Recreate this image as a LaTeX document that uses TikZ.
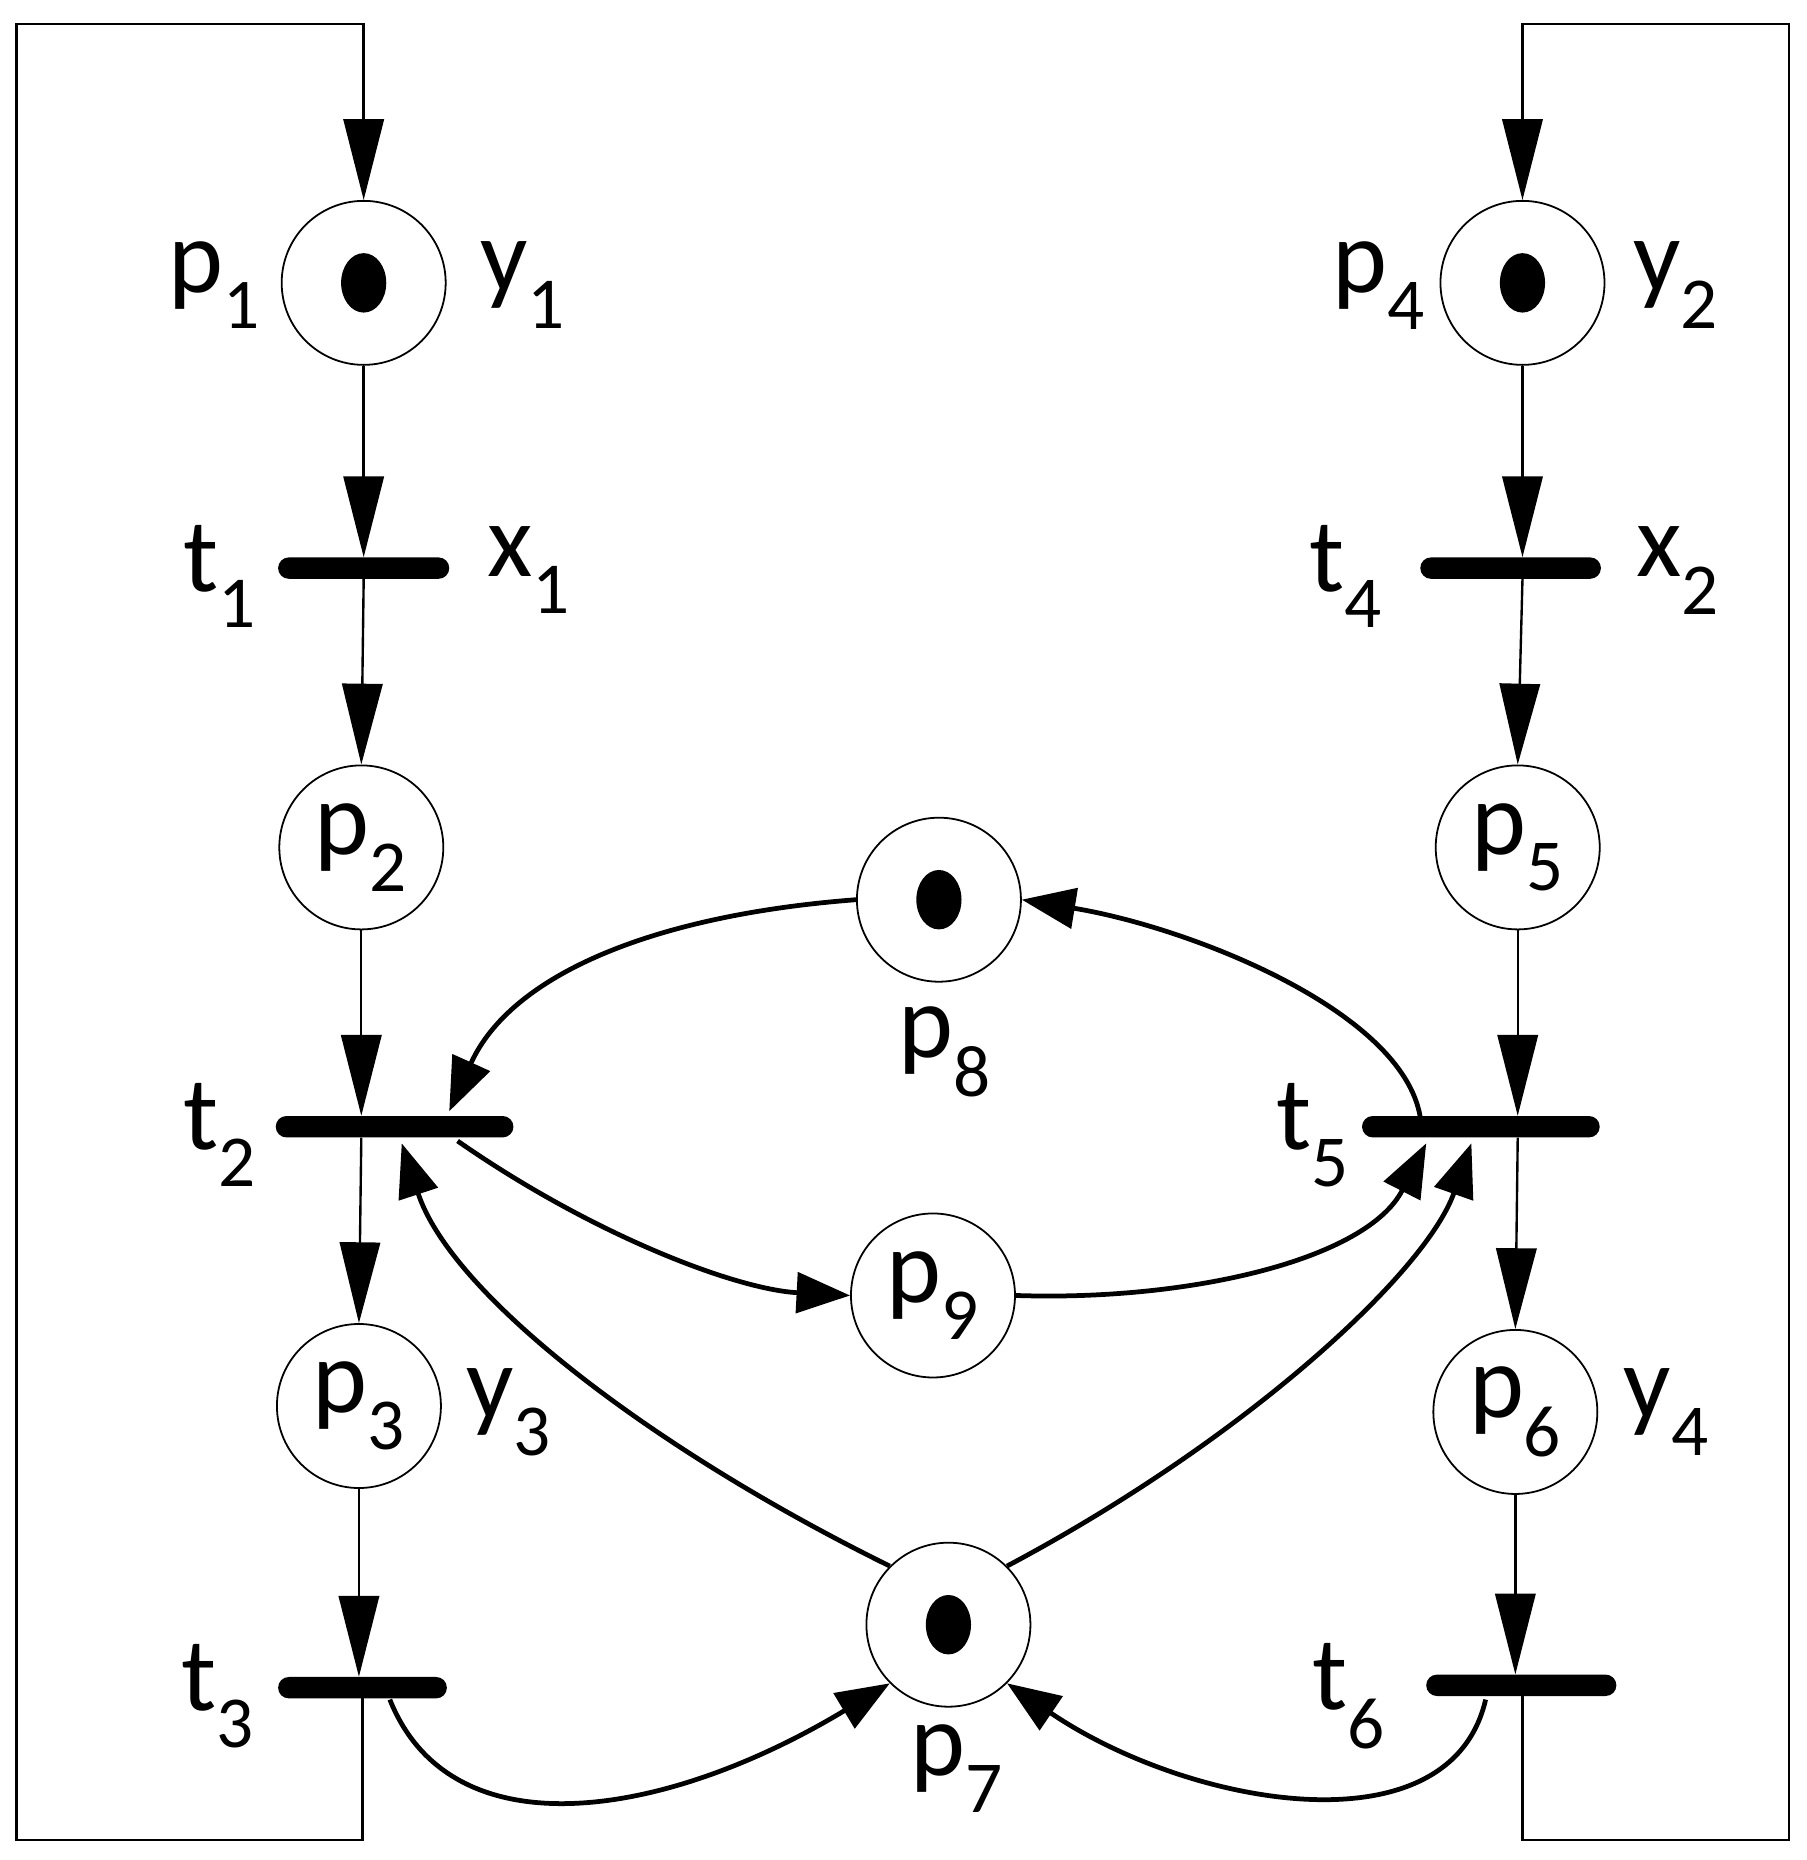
\documentclass[tikz,border=0pt]{standalone}
\usepackage{fontspec}
\setmainfont{Carlito}
\usetikzlibrary{arrows.meta}
\begin{document}
\begin{tikzpicture}[x=1pt,y=-1pt,
  place/.style={circle,draw,line width=1.5pt,minimum size=138pt,inner sep=0pt},
  bar/.style={rectangle,fill=black,rounded corners=9pt,minimum height=18pt,inner sep=0pt},
  lab/.style={font=\fontsize{88}{96}\selectfont},
  thin/.style={line width=2pt,-{Triangle[length=68pt,width=34pt]}},
  thick/.style={line width=4pt,-{Triangle[length=45pt,width=34pt]}},
  tok/.style={fill=black}]
\useasboundingbox (0,0) rectangle (1520,1565);
% places
\node[place] (p1) at (306,238) {};
\node[place] (p4) at (1281,238) {};
\node[place] (p2) at (304,713) {};
\node[place] (p5) at (1277,713) {};
\node[place] (p8) at (790,757) {};
\node[place] (p9) at (785,1090) {};
\node[place] (p3) at (302,1183) {};
\node[place] (p6) at (1275,1188) {};
\node[place] (p7) at (798,1367) {};
\foreach \p in {p1,p4,p8,p7} \fill[tok] (\p) ellipse (19pt and 25pt);
% transitions
\node[bar,minimum width=144pt] (t1) at (306,478) {};
\node[bar,minimum width=152pt] (t4) at (1271,478) {};
\node[bar,minimum width=200pt] (t2) at (332,948) {};
\node[bar,minimum width=200pt] (t5) at (1246,948) {};
\node[bar,minimum width=142pt] (t3) at (305,1420) {};
\node[bar,minimum width=160pt] (t6) at (1280,1418) {};
% labels
\node[lab] at (180,240) {p$_{\fontsize{60}{60}\selectfont\textrm{1}}$};
\node[lab] (Ly1) at (440,240) {y\textsubscript{1}};
\node[lab] at (1160,240) {p\textsubscript{4}};
\node[lab] at (1410,240) {y\textsubscript{2}};
\node[lab] at (185,485) {t\textsubscript{1}};
\node[lab] at (445,480) {x\textsubscript{1}};
\node[lab] at (1132,485) {t\textsubscript{4}};
\node[lab] at (1412,480) {x\textsubscript{2}};
\node[lab] at (p2) {p\textsubscript{2}};
\node[lab] at (p5) {p\textsubscript{5}};
\node[lab] at (p3) {p\textsubscript{3}};
\node[lab] at (p6) {p\textsubscript{6}};
\node[lab] at (p9) {p\textsubscript{9}};
\node[lab] at (185,955) {t\textsubscript{2}};
\node[lab] at (795,885) {p\textsubscript{8}};
\node[lab] at (1105,955) {t\textsubscript{5}};
\node[lab] at (428,1188) {y\textsubscript{3}};
\node[lab] at (1402,1188) {y\textsubscript{4}};
\node[lab] at (183,1427) {t\textsubscript{3}};
\node[lab] at (805,1488) {p\textsubscript{7}};
\node[lab] at (1135,1427) {t\textsubscript{6}};
% loops
\coordinate (BL) at (14,1548); \coordinate (TL) at (14,20);
\coordinate (BR) at (1505,1548); \coordinate (TR) at (1505,20);
\draw[thin] (t3.center) -- (t3 |- BL) -- (BL) -- (TL) -- (TL -| p1) -- (p1.north);
\draw[thin] (t6 -| p4) -- (BR -| p4) -- (BR) -- (TR) -- (TR -| p4) -- (p4.north);
% vertical arcs
\draw[thin] (p1.south) -- (p1 |- t1.north);
\draw[thin] (p1 |- t1.south) -- (p2.north);
\draw[thin] (p2.south) -- (p2 |- t2.north);
\draw[thin] (p2 |- t2.south) -- (p3.north);
\draw[thin] (p3.south) -- (p3 |- t3.north);
\draw[thin] (p4.south) -- (p4 |- t4.north);
\draw[thin] (p4 |- t4.south) -- (p5.north);
\draw[thin] (p5.south) -- (p5 |- t5.north);
\draw[thin] (p5 |- t5.south) -- (p6.north);
\draw[thin] (p6.south) -- (p6 |- t6.north);
% curved arcs
\coordinate (a1) at (378,935);
\draw[thick] (p8.west) .. controls (550,770) and (430,820) .. (a1);
\coordinate (a2) at (1195,940);
\draw[thick] (a2) .. controls (1180,850) and (1000,780) .. (p8.east);
\coordinate (a3) at (385,960);
\draw[thick] (a3) .. controls (500,1040) and (620,1085) .. (p9.west);
\coordinate (a4) at (1200,962);
\draw[thick] (p9.east) .. controls (1000,1095) and (1150,1060) .. (a4);
\coordinate (a5) at (338,962);
\draw[thick] (p7.north west) .. controls (550,1220) and (380,1090) .. (a5);
\coordinate (a6) at (1238,962);
\draw[thick] (p7.north east) .. controls (1050,1210) and (1200,1070) .. (a6);
\coordinate (a7) at (328,1430);
\draw[thick] (a7) .. controls (380,1560) and (560,1530) .. (p7.south west);
\coordinate (a8) at (1250,1430);
\draw[thick] (a8) .. controls (1220,1560) and (1000,1520) .. (p7.south east);
\end{tikzpicture}
\end{document}
